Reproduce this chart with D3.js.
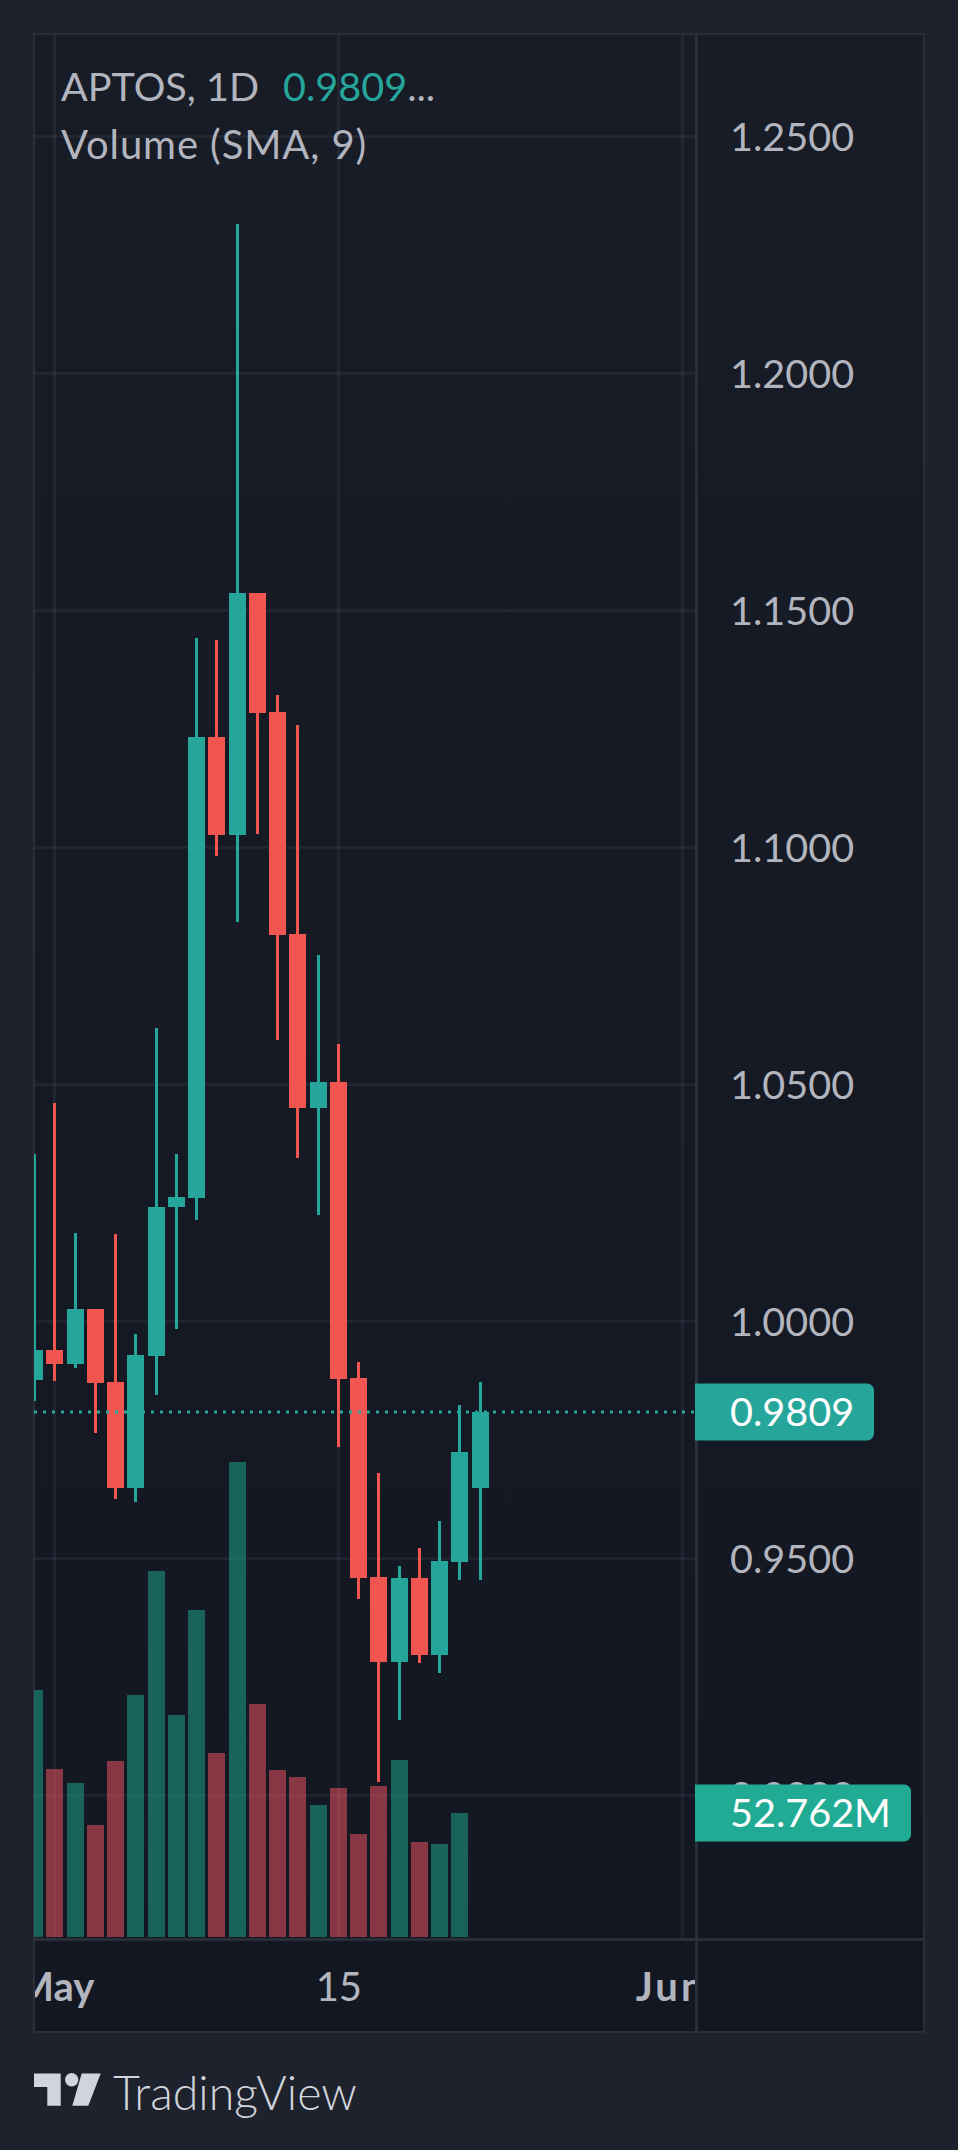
<!DOCTYPE html>
<html>
<head>
<meta charset="utf-8">
<script src="https://cdn.jsdelivr.net/npm/d3@7"></script>
<style>
  html, body { margin: 0; padding: 0; background: #1e222d; }
  svg { display: block; }
  text { font-family: Lato, "Open Sans", sans-serif; }
</style>
</head>
<body>
<script>
// daily candles
const dates = ["2023-04-30","2023-05-01","2023-05-02","2023-05-03","2023-05-04","2023-05-05",
  "2023-05-06","2023-05-07","2023-05-08","2023-05-09","2023-05-10","2023-05-11","2023-05-12",
  "2023-05-13","2023-05-14","2023-05-15","2023-05-16","2023-05-17","2023-05-18","2023-05-19",
  "2023-05-20","2023-05-21","2023-05-22"];
const open  = [.9877,.9940,.9910,1.0026,.9872,.9649,.9927,1.0242,1.0261,1.1233,1.1026,1.1537,1.1286,
  1.0818,1.0451,1.0505,.9881,.9461,.9282,.9459,.9296,.9493,.9649];
const high  = [1.0353,1.0461,1.0187,1.0026,1.0185,.9974,1.0619,1.0353,1.1442,1.1438,1.2315,1.1537,1.1322,
  1.1259,1.0773,1.0586,.9915,.9680,.9484,.9522,.9579,.9824,.9872];
const low   = [.9832,.9875,.9902,.9765,.9626,.9619,.9845,.9984,1.0214,1.0982,1.0843,1.1029,1.0594,
  1.0345,1.0225,.9735,.9415,.9029,.9159,.9280,.9259,.9455,.9455];
const close = [.9940,.9910,1.0026,.9870,.9649,.9929,1.0242,1.0263,1.1233,1.1026,1.1537,1.1284,1.0815,
  1.0451,1.0505,.9879,.9459,.9282,.9459,.9296,.9495,.9725,.9809];
// volume in millions, the last day has no bar
const volume = [105.1,71.5,65.5,47.7,74.9,103.0,155.7,94.5,139.1,78.3,202.1,99.1,71.1,68.1,56.2,63.4,
  43.8,64.3,75.3,40.4,39.6,52.762];
const volumeUp = [1,0,1,0,0,1,1,1,1,0,1,0,0,0,1,0,0,0,1,0,1,1];

const priceTicks = [1.25,1.2,1.15,1.1,1.05,1,.95,.9];
const dateTicks = ["2023-05-01","2023-05-15","2023-06-01"];
const dateTickLabels = ["May","15","Jun"];
const lastPrice = 0.9809;
const lastVolume = 52.762;

const GREEN = "#26a69a", RED = "#f05550", GRID = "rgba(240,243,250,0.055)", BORDER = "#2a2e39", TEXT = "#b2b5be";
const VOL_GREEN = "#20a68d", VOL_RED = "#f05562";

const svg = d3.select("body").append("svg").attr("width", 958).attr("height", 2150);
const defs = svg.append("defs");

const grad = defs.append("linearGradient").attr("id", "bg").attr("x1", 0).attr("x2", 0).attr("y1", 0).attr("y2", 1);
grad.append("stop").attr("offset", 0).attr("stop-color", "#181c27");
grad.append("stop").attr("offset", 1).attr("stop-color", "#131722");

defs.append("clipPath").attr("id", "pane").append("rect")
  .attr("x", 34).attr("y", 35).attr("width", 661).attr("height", 1903);
defs.append("clipPath").attr("id", "timePane").append("rect")
  .attr("x", 35).attr("y", 1941).attr("width", 660).attr("height", 90);

// Scales
const x = d3.scaleUtc()
  .domain([new Date("2023-04-30"), new Date("2023-06-01")])
  .range([34.6, 682.6]);
const y = d3.scaleLinear().domain([0.9, 1.25]).range([1795.5, 136.5]);
const yVol = d3.scaleLinear().domain([0, 210]).range([1937, 1443.5]);

const cx = d => Math.floor(x(new Date(d)));

// Frame
svg.append("rect").attr("x", 34).attr("y", 34).attr("width", 890).attr("height", 1998)
  .attr("fill", "url(#bg)").attr("stroke", BORDER).attr("stroke-width", 2);

// Grid
const pane = svg.append("g").attr("clip-path", "url(#pane)");
pane.selectAll(".gy").data(priceTicks).join("line")
  .attr("x1", 34).attr("x2", 696).attr("y1", d => y(d)).attr("y2", d => y(d))
  .attr("stroke", GRID).attr("stroke-width", 3);
pane.selectAll(".gx").data(dateTicks).join("line")
  .attr("x1", d => cx(d) + 0.5).attr("x2", d => cx(d) + 0.5).attr("y1", 35).attr("y2", 1938)
  .attr("stroke", GRID).attr("stroke-width", 3);

// Volume
pane.selectAll(".vol").data(volume).join("rect")
  .attr("x", (d, i) => cx(dates[i]) - 8)
  .attr("width", 17)
  .attr("y", d => Math.round(yVol(d)))
  .attr("height", d => 1937 - Math.round(yVol(d)))
  .attr("fill", (d, i) => volumeUp[i] ? VOL_GREEN : VOL_RED)
  .attr("fill-opacity", 0.53);

// Candles
const candles = dates.map((d, i) => ({ d, o: open[i], h: high[i], l: low[i], c: close[i] }));
const colorOf = d => d.c >= d.o ? GREEN : RED;
pane.selectAll(".wick").data(candles).join("rect")
  .attr("x", d => cx(d.d) - 1)
  .attr("width", 3)
  .attr("y", d => Math.round(y(d.h)))
  .attr("height", d => Math.round(y(d.l)) - Math.round(y(d.h)))
  .attr("fill", colorOf);
pane.selectAll(".body").data(candles).join("rect")
  .attr("x", d => cx(d.d) - 8)
  .attr("width", 17)
  .attr("y", d => Math.round(y(Math.max(d.o, d.c))))
  .attr("height", d => Math.round(y(Math.min(d.o, d.c))) - Math.round(y(Math.max(d.o, d.c))))
  .attr("fill", colorOf);

// Last price line
pane.append("line")
  .attr("x1", 34).attr("x2", 695).attr("y1", y(lastPrice)).attr("y2", y(lastPrice))
  .attr("stroke", GREEN).attr("stroke-width", 3).attr("stroke-dasharray", "3 6");

// Dividers
svg.append("line").attr("x1", 696.5).attr("x2", 696.5).attr("y1", 34).attr("y2", 2032)
  .attr("stroke", BORDER).attr("stroke-width", 3);
svg.append("line").attr("x1", 34).attr("x2", 924).attr("y1", 1939.5).attr("y2", 1939.5)
  .attr("stroke", BORDER).attr("stroke-width", 3);

// Price axis
const yAxis = svg.append("g").attr("transform", "translate(696,0)")
  .call(d3.axisRight(y).tickValues(priceTicks).tickFormat(d3.format(".4f")).tickSize(0).tickPadding(34));
yAxis.select(".domain").remove();
yAxis.selectAll("text").attr("fill", TEXT).attr("font-size", 39.6).attr("font-family", "Lato").attr("dy", "0.35em");

// Time axis
const xAxis = svg.append("g").attr("clip-path", "url(#timePane)").append("g")
  .attr("transform", "translate(0,1940)")
  .call(d3.axisBottom(x).tickValues(dateTicks.map(d => new Date(d)))
    .tickFormat((d, i) => dateTickLabels[i]).tickSize(0).tickPadding(33));
xAxis.select(".domain").remove();
xAxis.selectAll("text")
  .attr("fill", TEXT).attr("font-size", 40).attr("font-family", "Lato")
  .attr("font-weight", (d, i) => dateTickLabels[i] === "15" ? 400 : 700)
  // the Jun label sits left of its gridline in the original and is a bit wider
  .attr("dx", (d, i) => dateTickLabels[i] === "Jun" ? -12 : 0)
  .attr("letter-spacing", (d, i) => dateTickLabels[i] === "Jun" ? 3 : 0);

// Value tags on the price axis
const tags = [
  { label: d3.format(".4f")(lastPrice), yc: y(lastPrice), w: 179, fill: GREEN },
  { label: lastVolume.toFixed(3) + "M", yc: yVol(lastVolume), w: 216, fill: "#22ab94" }
];
const tag = svg.selectAll(".tag").data(tags).join("g").attr("transform", d => `translate(695,${d.yc})`);
tag.append("path")
  .attr("d", d => `M0,-28.5H${d.w - 7}a7,7 0 0 1 7,7V21.5a7,7 0 0 1 -7,7H0Z`)
  .attr("fill", d => d.fill);
tag.append("text")
  .attr("x", 35).attr("dy", "0.35em").attr("fill", "#fff").attr("font-size", 39.6)
  .text(d => d.label);

// Legend
const legend = svg.append("text").attr("x", 61).attr("y", 101).attr("font-size", 39.6).attr("fill", TEXT);
legend.append("tspan").text("APTOS, 1D");
legend.append("tspan").attr("x", 283).attr("fill", GREEN).text("0.9809");
legend.append("tspan").text("...");
svg.append("text").attr("x", 61).attr("y", 158.5).attr("font-size", 40).attr("letter-spacing", 0.9)
  .attr("fill", TEXT).text("Volume (SMA, 9)");

// TradingView mark
const logo = svg.append("g").attr("fill", "#d1d4dc");
logo.append("path").attr("d", "M34,2073.5H60.7V2105.7H47.3V2087H34Z");
logo.append("circle").attr("cx", 71.7).attr("cy", 2079.8).attr("r", 6.7);
logo.append("path").attr("d", "M81.7,2073.5H100.7L88.3,2105.7H72.3Z");
svg.append("text").attr("x", 113).attr("y", 2109.5).attr("font-size", 46.5).attr("font-weight", 300)
  .attr("fill", "#d1d4dc").text("TradingView");
</script>
</body>
</html>
